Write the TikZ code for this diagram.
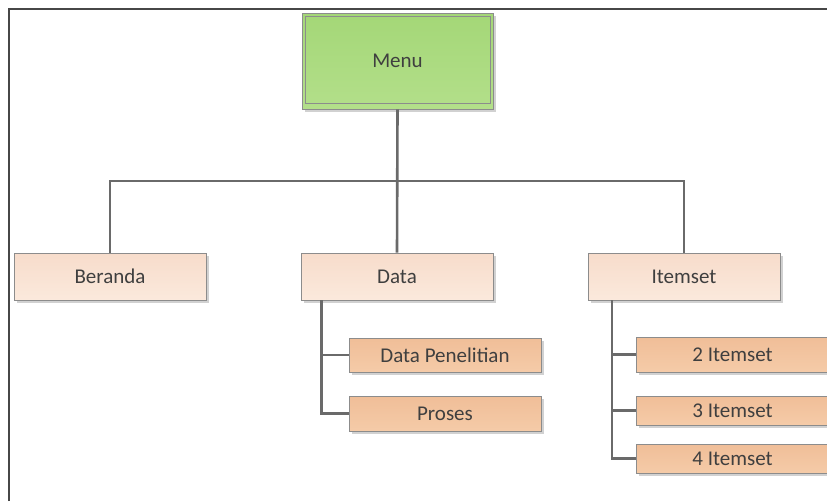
\documentclass[tikz,border=0pt]{standalone}
\usepackage{fontspec}
\setmainfont{Carlito}
\usetikzlibrary{shadows}
\definecolor{txt}{HTML}{3F3F3F}
\definecolor{edge}{HTML}{8C8C8C}
\definecolor{wire}{HTML}{6A6A6A}
\definecolor{menutop}{HTML}{A4D777}
\definecolor{menubot}{HTML}{B3DF8A}
\definecolor{lvltop}{HTML}{F7DCCB}
\definecolor{lvlbot}{HTML}{FBE9DC}
\definecolor{subtop}{HTML}{F0BE98}
\definecolor{subbot}{HTML}{F5CBA8}
\begin{document}
\begin{tikzpicture}[x=1pt,y=-1pt,
  every node/.style={text=txt,font=\fontsize{21}{24}\selectfont,inner sep=0pt},
  boxbase/.style={draw=edge,line width=0.9pt,
    drop shadow={shadow xshift=2.5pt,shadow yshift=-2.5pt,opacity=0.18,fill=black}},
  lvlbox/.style={boxbase,top color=lvltop,bottom color=lvlbot,
    minimum width=192pt,minimum height=47pt},
  subbox/.style={boxbase,top color=subtop,bottom color=subbot,
    minimum width=192pt},
  menubox/.style={boxbase,top color=menutop,bottom color=menubot,
    minimum width=191pt,minimum height=96pt},
  conn/.style={draw=wire,line width=2.6pt}]
\useasboundingbox (0,0) rectangle (827,501);
\fill[white] (0,0) rectangle (827,501);
% page frame
\draw[draw=black!72,line width=2pt] (8.5,501) -- (8.5,8.5) -- (827,8.5);

% root, with its inner double border
\node[menubox] (menu) at (397.5,61) {Menu};
\draw[draw=edge,line width=0.9pt]
  ([xshift=3.5pt,yshift=-4pt]menu.north west) rectangle
  ([xshift=-3.5pt,yshift=6pt]menu.south east);

% first level
\node[lvlbox] (beranda) at (110,276.5) {Beranda};
\node[lvlbox] (data) at (397,276.5) {Data};
\node[lvlbox] (itemset) at (684,276.5) {Itemset};

% second level
\node[subbox,minimum height=34pt] (dpen) at (445,355) {Data Penelitian};
\node[subbox,minimum height=35pt] (proses) at (445,413.7) {Proses};
\node[subbox,minimum height=35pt] (i2) at (732.5,354.5) {2 Itemset};
\node[subbox,minimum height=29pt] (i3) at (732.5,410.5) {3 Itemset};
\node[subbox,minimum height=29pt] (i4) at (732.5,458.5) {4 Itemset};

% connectors
\coordinate (bus) at (397,181);
\draw[conn] (menu.south) -- (data.north);
\draw[conn] (beranda.north) |- (bus) -| (itemset.north);
\coordinate (dtrunk) at ([xshift=21pt]data.south west);
\draw[conn] (dtrunk) |- (dpen.west);
\draw[conn] (dtrunk) |- (proses.west);
\coordinate (itrunk) at ([xshift=24.5pt]itemset.south west);
\draw[conn] (itrunk) |- (i2.west);
\draw[conn] (itrunk) |- (i3.west);
\draw[conn] (itrunk) |- (i4.west);
\end{tikzpicture}
\end{document}
